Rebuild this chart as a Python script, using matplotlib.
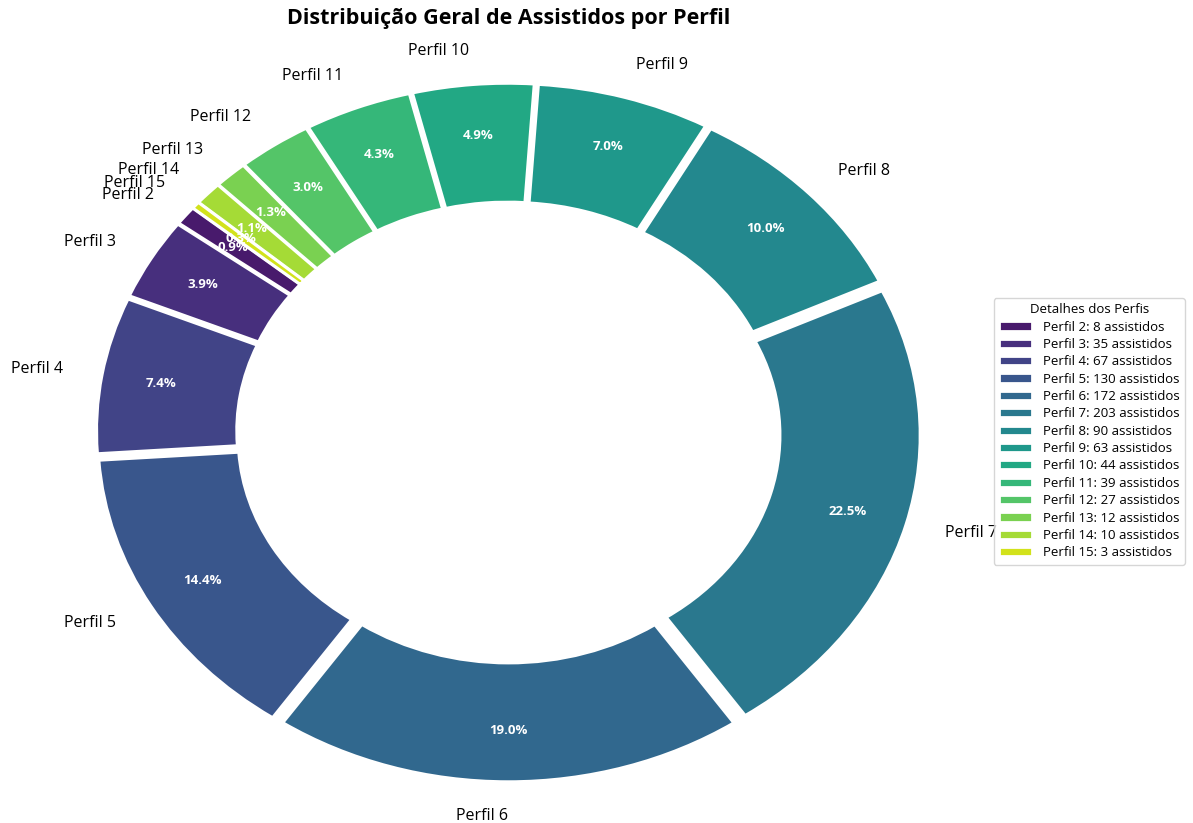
import matplotlib.pyplot as plt
import numpy as np

plt.rcParams['font.family'] = ['Open Sans', 'DejaVu Sans']

perfis = ['Perfil 2', 'Perfil 3', 'Perfil 4', 'Perfil 5', 'Perfil 6', 'Perfil 7', 'Perfil 8',
          'Perfil 9', 'Perfil 10', 'Perfil 11', 'Perfil 12', 'Perfil 13', 'Perfil 14', 'Perfil 15']
assistidos = [8, 35, 67, 130, 172, 203, 90, 63, 44, 39, 27, 12, 10, 3]

colors = plt.cm.viridis(np.linspace(0, 1, len(perfis) + 2)[1:-1])
explode = [0.03] * len(perfis)

fig = plt.figure(figsize=(11.93, 8.23), dpi=100)
ax = fig.add_axes([0, 0, 1, 1])

wedges, texts, autotexts = ax.pie(
    assistidos, labels=perfis, colors=colors, explode=explode,
    startangle=140, autopct='%1.1f%%', pctdistance=0.85, labeldistance=1.1,
    wedgeprops=dict(width=0.35, edgecolor='white', linewidth=2),
    textprops=dict(fontsize=11.5))

for t in autotexts:
    t.set_color('white')
    t.set_fontweight('bold')
    t.set_fontsize(9.5)

ax.set_aspect('auto')
ax.set_xlim(-508.5 / 400, (1193 - 508.5) / 400)
ax.set_ylim(-(823 - 432.5) / 339, 432.5 / 339)

fig.text(0.4266, 0.978, 'Distribuição Geral de Assistidos por Perfil',
         ha='center', va='center', fontsize=15.5, fontweight='bold')

legend_labels = [f'{p}: {v} assistidos' for p, v in zip(perfis, assistidos)]
ax.legend(wedges, legend_labels, title='Detalhes dos Perfis', loc='center left',
          bbox_to_anchor=(0.8275, 0.476), bbox_transform=fig.transFigure,
          fontsize=9.5, title_fontsize=9.5, labelspacing=0.33, handlelength=2.5,
          borderpad=0.4)

plt.savefig('out.png', dpi=100)
